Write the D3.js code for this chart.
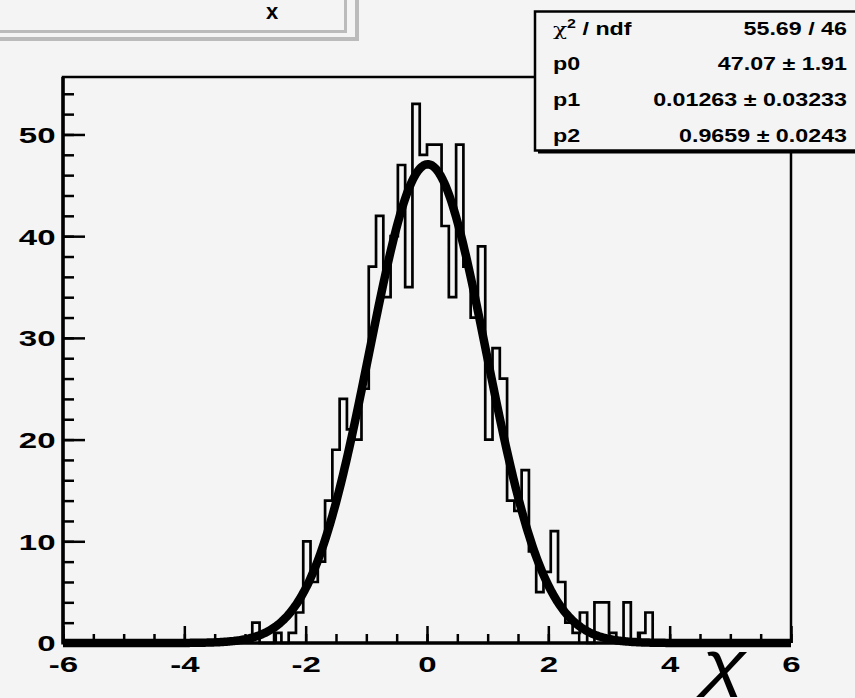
<!DOCTYPE html>
<html>
<head>
<meta charset="utf-8">
<script src="https://cdn.jsdelivr.net/npm/d3@7"></script>
<style>
  body { margin: 0; background: #f4f4f4; }
  svg { display: block; }
  text { font-family: "Liberation Sans", Arial, Helvetica, sans-serif; font-weight: bold; fill: #000; }
</style>
</head>
<body>
<script>
// histogram contents, bins of width 0.12 starting at -2.88
var binWidth = 0.12;
var firstBinLow = -2.88;
var counts = [2, 0, 0, 1, 0, 1, 3, 10, 6, 8,
              14, 19, 24, 21, 20, 25, 37, 42, 34, 40,
              47, 35, 53, 48, 49, 49, 41, 34, 49, 37,
              32, 39, 20, 29, 26, 14, 13, 17, 9, 5,
              7, 11, 6, 2, 1, 3, 0, 4, 4, 1,
              0, 4, 0, 1, 3];

// fit result (gaus) as printed in the stats box
var fitParams = [47.07, 0.01263, 0.9659];
var statLabels = ["p0", "p1", "p2"];
var statValues = ["47.07 \u00b1 1.91", "0.01263 \u00b1 0.03233", "0.9659 \u00b1 0.0243"];
var chi2Text = "55.69 / 46";

// axis ticks
var xDomain = [-6, 6];
var yDomain = [0, 55.65];
var xMajorTicks = [-6, -4, -2, 0, 2, 4, 6];
var yMajorTicks = [0, 10, 20, 30, 40, 50];
var xMinorStep = 0.5;
var yMinorStep = 2;

var histTitle = "x";
var xAxisTitle = "\u03c7";

var width = 855,
    height = 698;

var frame = {left: 63, right: 791, top: 77, bottom: 643};

var sx = 1.5;   // ROOT output looks horizontally stretched

var svg = d3.select("body")
    .append("svg")
    .attr("width", width)
    .attr("height", height);

svg.append("rect")
    .attr("width", width)
    .attr("height", height)
    .attr("fill", "#f4f4f4");

var x = d3.scaleLinear().domain(xDomain).range([frame.left, frame.right]);
var y = d3.scaleLinear().domain(yDomain).range([frame.bottom, frame.top]);

//title pave (top left)
svg.append("path")
    .attr("d", "M-5,39 H357 V-5")
    .attr("fill", "none")
    .attr("stroke", "#bbbbbb")
    .attr("stroke-width", 4);
svg.append("rect")
    .attr("x", -5).attr("y", -5)
    .attr("width", 350.5).attr("height", 36.5)
    .attr("fill", "#f4f4f4")
    .attr("stroke", "#bbbbbb")
    .attr("stroke-width", 3);
svg.append("text")
    .attr("transform", "translate(272,18.5)")
    .attr("text-anchor", "middle")
    .style("font-size", "22px")
    .text(histTitle);

//minor ticks
var xMinor = d3.range(xDomain[0], xDomain[1] + 0.001, xMinorStep);
var yMinor = d3.range(yDomain[0], yDomain[1], yMinorStep);

svg.append("g")
    .attr("class", "xminor")
    .attr("transform", "translate(0," + frame.bottom + ")")
    .call(d3.axisBottom(x).tickValues(xMinor).tickSize(-9).tickFormat(""));

svg.append("g")
    .attr("class", "yminor")
    .attr("transform", "translate(" + frame.left + ",0)")
    .call(d3.axisLeft(y).tickValues(yMinor).tickSize(-11).tickFormat(""));

//major ticks with labels
var xAxis = svg.append("g")
    .attr("class", "xaxis")
    .attr("transform", "translate(0," + frame.bottom + ")")
    .call(d3.axisBottom(x).tickValues(xMajorTicks).tickSize(-17).tickPadding(13)
        .tickFormat(d3.format("d")));

var yAxis = svg.append("g")
    .attr("class", "yaxis")
    .attr("transform", "translate(" + frame.left + ",0)")
    .call(d3.axisLeft(y).tickValues(yMajorTicks).tickSize(-22).tickPadding(5)
        .tickFormat(d3.format("d")));

svg.selectAll(".xminor .domain, .yminor .domain, .xaxis .domain, .yaxis .domain").remove();
svg.selectAll(".tick line").attr("stroke", "#000").attr("stroke-width", 2.5);

xAxis.selectAll("text")
    .attr("transform", "scale(" + sx + ",1)")
    .attr("dy", "0.71em")
    .style("font-size", "22px")
    .style("font-family", "'Liberation Sans', Arial, sans-serif")
    .style("font-weight", "bold")
    .text(function(d){ return d < 0 ? "-" + Math.abs(d) : d; });

yAxis.selectAll("text")
    .attr("transform", "scale(" + sx + ",1)")
    .attr("dy", "0.36em")
    .style("font-size", "22px")
    .style("font-family", "'Liberation Sans', Arial, sans-serif")
    .style("font-weight", "bold");

//histogram outline as steps
var bins = counts.map(function(c, i){
    return {x0: firstBinLow + i * binWidth, x1: firstBinLow + (i + 1) * binWidth, n: c};
});
var pts = [[bins[0].x0, 0]];
bins.forEach(function(b){
    pts.push([b.x0, b.n]);
    pts.push([b.x1, b.n]);
});
pts.push([bins[bins.length - 1].x1, 0]);

svg.append("path")
    .datum(pts)
    .attr("fill", "none")
    .attr("stroke", "#000")
    .attr("stroke-width", 2.7)
    .attr("stroke-linejoin", "miter")
    .attr("d", d3.line().x(function(d){ return x(d[0]); }).y(function(d){ return y(d[1]); }));

//fit function
function gaus(v){
    var t = (v - fitParams[1]) / fitParams[2];
    return fitParams[0] * Math.exp(-0.5 * t * t);
}
var fitPts = d3.range(xDomain[0], xDomain[1] + 0.001, 0.02).map(function(v){ return [v, gaus(v)]; });

svg.append("path")
    .datum(fitPts)
    .attr("fill", "none")
    .attr("stroke", "#000")
    .attr("stroke-width", 8.5)
    .attr("stroke-linejoin", "round")
    .attr("d", d3.line().x(function(d){ return x(d[0]); }).y(function(d){ return y(d[1]); }));

//frame
svg.append("path")
    .attr("d", "M" + frame.left + "," + frame.bottom + " V" + frame.top + " H" + frame.right + " V" + frame.bottom)
    .attr("fill", "none")
    .attr("stroke", "#000")
    .attr("stroke-width", 2.5);
svg.append("line")
    .attr("x1", frame.left).attr("x2", frame.left)
    .attr("y1", frame.top).attr("y2", frame.bottom + 1.5)
    .attr("stroke", "#000").attr("stroke-width", 3.5);
svg.append("line")
    .attr("x1", frame.left).attr("x2", frame.right)
    .attr("y1", frame.bottom).attr("y2", frame.bottom)
    .attr("stroke", "#000").attr("stroke-width", 3.5);

//axis title (bottom of the glyph runs off the page, as in the original)
svg.append("text")
    .attr("transform", "translate(746,684) scale(1.3,1)")
    .attr("text-anchor", "end")
    .style("font-size", "62px")
    .style("font-weight", "normal")
    .style("font-style", "italic")
    .text(xAxisTitle);

//stats box
var box = {x: 535, y: 11.5, w: 330, h: 139};
svg.append("rect")
    .attr("x", box.x + 3).attr("y", box.y + 3)
    .attr("width", box.w).attr("height", box.h)
    .attr("fill", "#000");
svg.append("rect")
    .attr("x", box.x).attr("y", box.y)
    .attr("width", box.w).attr("height", box.h)
    .attr("fill", "#f4f4f4")
    .attr("stroke", "#000")
    .attr("stroke-width", 2.5);

var rowBase = [35, 70, 106, 141.5];
var statSx = 1.33;

function statText(xp, yp, anchor){
    return svg.append("text")
        .attr("transform", "translate(" + xp + "," + yp + ") scale(" + statSx + ",1)")
        .attr("text-anchor", anchor)
        .style("font-size", "17.5px");
}

var chiLabel = statText(553, rowBase[0], "start");
chiLabel.append("tspan").style("font-weight", "normal").style("font-family", "'DejaVu Serif', serif").text("\u03c7");
chiLabel.append("tspan").attr("dy", -7).style("font-size", "12px").text("2");
chiLabel.append("tspan").attr("dy", 7).text(" / ndf");
statText(847, rowBase[0], "end").text(chi2Text);

statLabels.forEach(function(l, i){
    statText(553, rowBase[i + 1], "start").text(l);
    statText(847, rowBase[i + 1], "end").text(statValues[i]);
});
</script>
</body>
</html>
